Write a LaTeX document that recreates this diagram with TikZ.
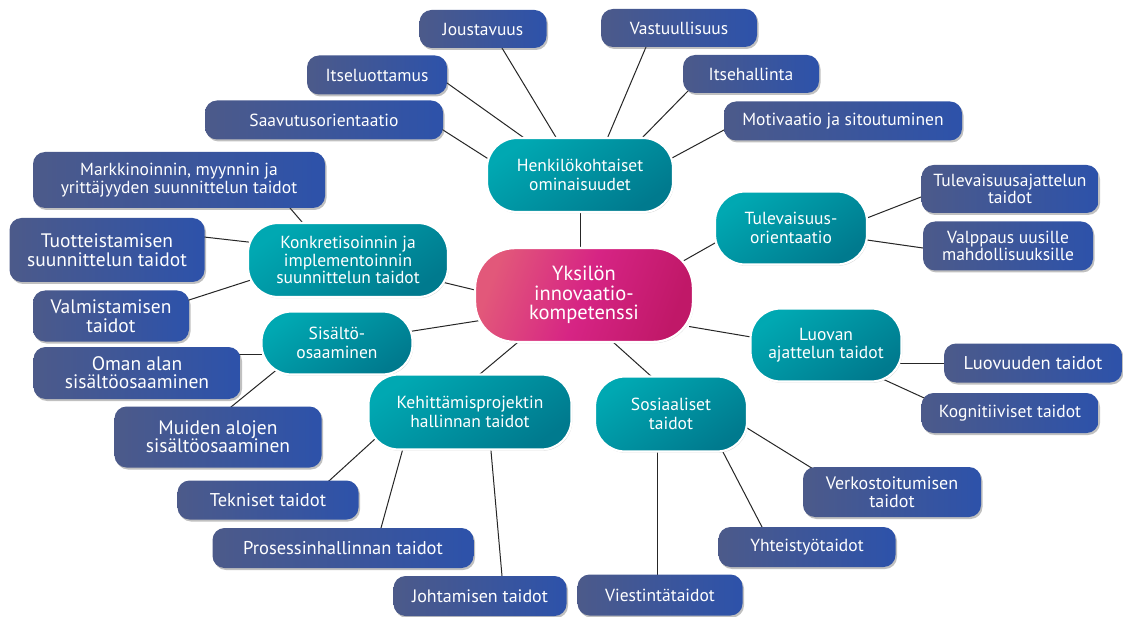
\documentclass[tikz,border=0pt]{standalone}
\usepackage{fontspec}
\setmainfont{PT Sans}
\usetikzlibrary{shadows,backgrounds,calc}
\definecolor{leafL}{RGB}{76,90,138}
\definecolor{leafR}{RGB}{45,82,170}
\definecolor{tealA}{RGB}{0,168,178}
\definecolor{tealB}{RGB}{0,122,142}
\definecolor{pinkA}{RGB}{226,88,122}
\definecolor{pinkB}{RGB}{214,36,132}
\definecolor{pinkC}{RGB}{192,24,104}
\newcommand\fsz[2]{\fontsize{#1pt}{#2pt}\selectfont}
\begin{document}
\begin{tikzpicture}[x=1pt,y=-1pt,
  leaf/.style={rounded corners=12pt, left color=leafL, right color=leafR,
    text=white, align=center, inner sep=0pt,
    drop shadow={shadow xshift=1.5pt, shadow yshift=-2pt, opacity=0.35, fill=black!70}},
  hub/.style={rounded corners=30pt, draw=white, line width=2.2pt,
    top color=tealA, bottom color=tealB, shading angle=35,
    text=white, align=center, inner sep=0pt,
    drop shadow={shadow xshift=0.8pt, shadow yshift=-1.2pt, opacity=0.3, fill=black!60}},
  core/.style={rounded corners=40pt, draw=white, line width=2.4pt,
    left color=pinkA, right color=pinkC, middle color=pinkB, shading angle=70,
    text=white, align=center, inner sep=0pt,
    drop shadow={shadow xshift=0.8pt, shadow yshift=-1.2pt, opacity=0.3, fill=black!60}},
  link/.style={draw=black!85, line width=1pt, shorten >=-3pt, shorten <=-3pt}]
\useasboundingbox (0,0) rectangle (1123,617);

% core and hubs
\node[core, minimum width=218pt, minimum height=94pt, font=\fsz{20.5}{19.5}] (cent) at (584,295) {Yksilön\\innovaatio-\\kompetenssi};
\node[hub, minimum width=186pt, minimum height=74pt, font=\fsz{17.5}{18.5}] (henk) at (580,175) {Henkilökohtaiset\\ominaisuudet};
\node[hub, minimum width=200pt, minimum height=74pt, font=\fsz{17.5}{17.5}] (konk) at (348,260) {Konkretisoinnin ja\\implementoinnin\\suunnittelun taidot};
\node[hub, minimum width=151pt, minimum height=63pt, font=\fsz{17.5}{18.5}] (sis) at (337,343) {Sisältö-\\osaaminen};
\node[hub, minimum width=203pt, minimum height=75pt, font=\fsz{17.5}{18.5}] (keh) at (470,412) {Kehittämisprojektin\\hallinnan taidot};
\node[hub, minimum width=152pt, minimum height=75pt, font=\fsz{17.5}{18.5}] (sos) at (671,414) {Sosiaaliset\\taidot};
\node[hub, minimum width=151pt, minimum height=73pt, font=\fsz{17.5}{18.5}] (luov) at (826,345) {Luovan\\ajattelun taidot};
\node[hub, minimum width=152pt, minimum height=73pt, font=\fsz{17.5}{18.5}] (tulev) at (791,228) {Tulevaisuus-\\orientaatio};

% leaves
\node[leaf, minimum width=127pt, minimum height=38pt, font=\fsz{17.5}{18}] (jous) at (483,29) {Joustavuus};
\node[leaf, minimum width=156pt, minimum height=38pt, font=\fsz{17.5}{18}] (vast) at (679,28) {Vastuullisuus};
\node[leaf, minimum width=140pt, minimum height=39pt, font=\fsz{17.5}{18}] (itsel) at (377,75) {Itseluottamus};
\node[leaf, minimum width=136pt, minimum height=38pt, font=\fsz{17.5}{18}] (itseh) at (751,74) {Itsehallinta};
\node[leaf, minimum width=238pt, minimum height=39pt, font=\fsz{17.5}{18}] (saav) at (324,120) {Saavutusorientaatio};
\node[leaf, minimum width=238pt, minimum height=39pt, font=\fsz{17.5}{18}] (motiv) at (843,121) {Motivaatio ja sitoutuminen};
\node[leaf, minimum width=292pt, minimum height=56pt, font=\fsz{17.5}{17.5}] (markk) at (179,180) {Markkinoinnin, myynnin ja\\yrittäjyyden suunnittelun taidot};
\node[leaf, minimum width=195pt, minimum height=64pt, font=\fsz{19.5}{18.5}] (tuott) at (107,250) {Tuotteistamisen\\suunnittelun taidot};
\node[leaf, minimum width=156pt, minimum height=51pt, font=\fsz{19.5}{18.5}] (valm) at (111,316) {Valmistamisen\\taidot};
\node[leaf, minimum width=207pt, minimum height=52pt, font=\fsz{19.5}{18}] (oman) at (137,373) {Oman alan\\sisältöosaaminen};
\node[leaf, minimum width=207pt, minimum height=61pt, font=\fsz{19.5}{18}] (muid) at (218,437) {Muiden alojen\\sisältöosaaminen};
\node[leaf, minimum width=181pt, minimum height=39pt, font=\fsz{18.5}{18}] (tekn) at (268,500) {Tekniset taidot};
\node[leaf, minimum width=261pt, minimum height=40pt, font=\fsz{18.5}{18}] (proc) at (343,548) {Prosessinhallinnan taidot};
\node[leaf, minimum width=173pt, minimum height=40pt, font=\fsz{18}{18}] (joht) at (480,596) {Johtamisen taidot};
\node[leaf, minimum width=165pt, minimum height=41pt, font=\fsz{17.5}{18}] (viest) at (660,595) {Viestintätaidot};
\node[leaf, minimum width=177pt, minimum height=40pt, font=\fsz{17.5}{18}] (yht) at (807,547) {Yhteistyötaidot};
\node[leaf, minimum width=178pt, minimum height=50pt, font=\fsz{18}{18}] (verk) at (892,492) {Verkostoitumisen\\taidot};
\node[leaf, minimum width=177pt, minimum height=40pt, font=\fsz{17.5}{18}] (kogn) at (1010,413) {Kognitiiviset taidot};
\node[leaf, minimum width=178pt, minimum height=39pt, font=\fsz{18.5}{18}] (luovd) at (1033,363) {Luovuuden taidot};
\node[leaf, minimum width=170pt, minimum height=49pt, font=\fsz{17.5}{17.5}] (valpp) at (1008,246) {Valppaus uusille\\mahdollisuuksille};
\node[leaf, minimum width=177pt, minimum height=48pt, font=\fsz{17.5}{17.5}] (tulaj) at (1010,189) {Tulevaisuusajattelun\\taidot};

% connectors
\begin{scope}[on background layer]
\fill[white] (0,0) rectangle (1123,617);
\draw[link] ([shift={(-90,-15)}]henk.center) -- ([shift={(119,10)}]saav.center);
\draw[link] ([shift={(-53,-35)}]henk.center) -- ([shift={(70,8)}]itsel.center);
\draw[link] ([shift={(-23,-36)}]henk.center) -- ([shift={(19,19)}]jous.center);
\draw[link] ([shift={(27,-36)}]henk.center) -- ([shift={(-33,19)}]vast.center);
\draw[link] ([shift={(61,-36)}]henk.center) -- ([shift={(-65,19)}]itseh.center);
\draw[link] ([shift={(92,-17)}]henk.center) -- ([shift={(-119,9)}]motiv.center);
\draw[link] ([shift={(0,37)}]henk.center) -- ([shift={(-4,-47)}]cent.center);
\draw[link] ([shift={(-46,-38)}]konk.center) -- ([shift={(111,28)}]markk.center);
\draw[link] ([shift={(-100,-18)}]konk.center) -- ([shift={(97,-13)}]tuott.center);
\draw[link] ([shift={(-97,20)}]konk.center) -- ([shift={(78,-16)}]valm.center);
\draw[link] ([shift={(98,23)}]konk.center) -- ([shift={(-109,-5)}]cent.center);
\draw[link] ([shift={(76,-12)}]sis.center) -- ([shift={(-107,26)}]cent.center);
\draw[link] ([shift={(-75,11)}]sis.center) -- ([shift={(103,-19)}]oman.center);
\draw[link] ([shift={(-63,29)}]sis.center) -- ([shift={(13,-30)}]muid.center);
\draw[link] ([shift={(10,-38)}]keh.center) -- ([shift={(-67,48)}]cent.center);
\draw[link] ([shift={(-95,27)}]keh.center) -- ([shift={(62,-20)}]tekn.center);
\draw[link] ([shift={(-68,40)}]keh.center) -- ([shift={(38,-20)}]proc.center);
\draw[link] ([shift={(21,39)}]keh.center) -- ([shift={(22,-20)}]joht.center);
\draw[link] ([shift={(-19,-37)}]sos.center) -- ([shift={(29,47)}]cent.center);
\draw[link] ([shift={(76,14)}]sos.center) -- ([shift={(-82,-25)}]verk.center);
\draw[link] ([shift={(52,38)}]sos.center) -- ([shift={(-45,-20)}]yht.center);
\draw[link] ([shift={(-14,38)}]sos.center) -- ([shift={(-3,-21)}]viest.center);
\draw[link] ([shift={(-75,-8)}]luov.center) -- ([shift={(108,32)}]cent.center);
\draw[link] ([shift={(75,18)}]luov.center) -- ([shift={(-89,0)}]luovd.center);
\draw[link] ([shift={(61,36)}]luov.center) -- ([shift={(-88,-16)}]kogn.center);
\draw[link] ([shift={(-76,15)}]tulev.center) -- ([shift={(101,-35)}]cent.center);
\draw[link] ([shift={(76,-10)}]tulev.center) -- ([shift={(-89,8)}]tulaj.center);
\draw[link] ([shift={(76,12)}]tulev.center) -- ([shift={(-85,2)}]valpp.center);
\end{scope}
\end{tikzpicture}
\end{document}
